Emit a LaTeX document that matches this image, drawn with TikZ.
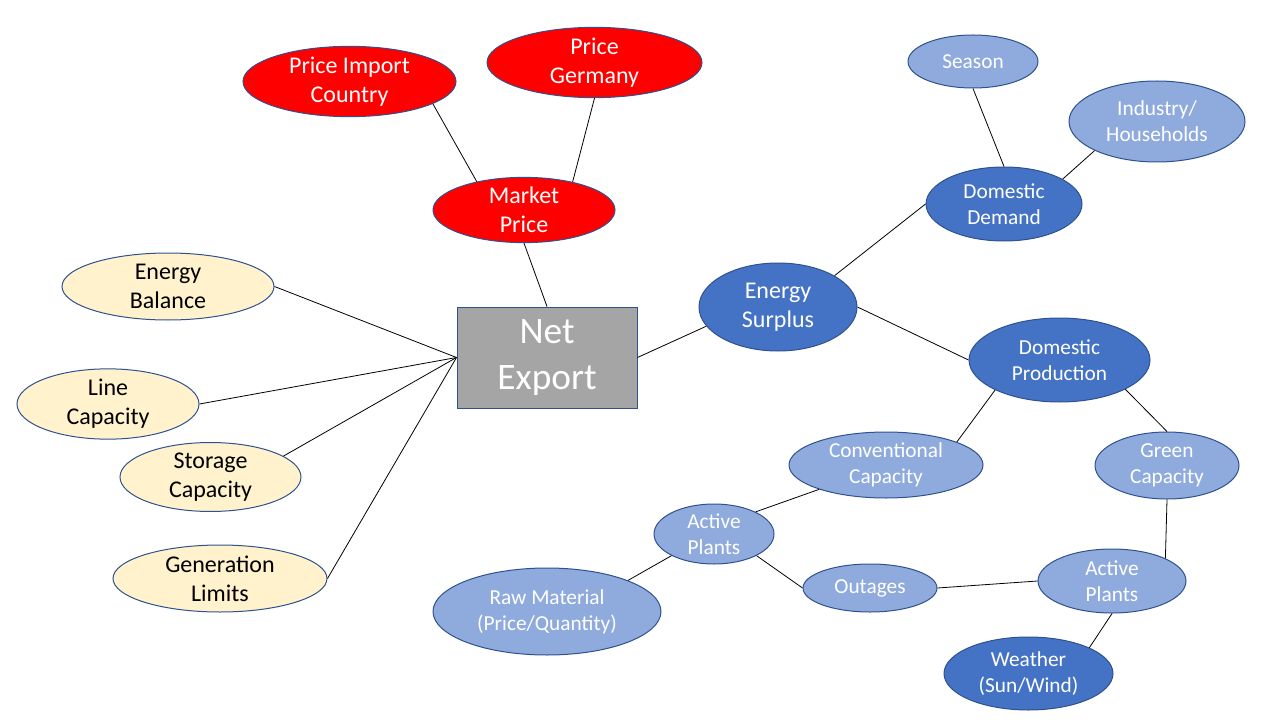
\documentclass[tikz,border=0pt]{standalone}
\usepackage{fontspec}
\setmainfont{Carlito}
\usetikzlibrary{shapes.geometric}
\definecolor{rim}{HTML}{2F528F}
\definecolor{pricefill}{HTML}{FF0000}
\definecolor{limitfill}{HTML}{FFF2CC}
\definecolor{palefill}{HTML}{8FAADC}
\definecolor{deepfill}{HTML}{4472C4}
\definecolor{boxfill}{HTML}{A5A5A5}
\begin{document}
\begin{tikzpicture}[x=0.75pt, y=-0.75pt,
        oval/.style 2 args={ellipse, draw=rim, line width=0.75pt, inner sep=0pt, align=center,
            minimum width=#1*0.75pt, minimum height=#2*0.75pt},
        price/.style={fill=pricefill, text=white, font=\fontsize{18}{22}\selectfont},
        limit/.style={fill=limitfill, text=black, font=\fontsize{18}{22}\selectfont},
        pale/.style={fill=palefill, text=white, font=\fontsize{16}{19.5}\selectfont},
        deep/.style={fill=deepfill, text=white, font=\fontsize{16}{19.5}\selectfont},
        big/.style={font=\fontsize{18}{22}\selectfont},
        box/.style={rectangle, draw=rim, line width=0.75pt, fill=boxfill, text=white, align=center,
            minimum width=135pt, minimum height=75.75pt, inner sep=0pt, font=\fontsize{28}{34}\selectfont},
        link/.style={draw=black, line width=0.6pt}]
        \useasboundingbox (0,0) rectangle (1280,720);
        \node[oval={213}{63}, price] (pi) at (349.5,81.5) {Price Import\\Country};
        \node[oval={215}{69}, price] (pg) at (594.5,62.5) {Price\\Germany};
        \node[oval={182}{56}, price] (mp) at (524,210) {Market\\Price};
        \node[box] (ne) at (547,357.5) {Net\\Export};
        \node[oval={212}{67}, limit] (eb) at (168,286.5) {Energy\\Balance};
        \node[oval={182}{56}, limit] (lc) at (108,404) {Line\\Capacity};
        \node[oval={181}{56}, limit] (sc) at (210.5,477) {Storage\\Capacity};
        \node[oval={214}{67}, limit] (gl) at (220,578.5) {Generation\\Limits};
        \node[oval={158}{88}, deep, big] (es) at (778,307) {Energy\\Surplus};
        \node[oval={130}{53}, pale] (se) at (973,61.5) {Season};
        \node[oval={176}{81}, pale] (ih) at (1157,121.5) {Industry/\\Households};
        \node[oval={156}{74}, deep] (dd) at (1004,204) {Domestic\\Demand};
        \node[oval={181}{84}, deep] (dp) at (1059.5,360) {Domestic\\Production};
        \node[oval={194}{66}, pale] (cc) at (886,465) {Conventional\\Capacity};
        \node[oval={144}{67}, pale] (gc) at (1167,465.5) {Green\\Capacity};
        \node[oval={120}{60}, pale] (ap) at (714,534) {Active\\Plants};
        \node[oval={134}{48}, pale] (ou) at (870,588) {Outages};
        \node[oval={148}{64}, pale] (ag) at (1112,581) {Active\\Plants};
        \node[oval={169}{73}, deep] (we) at (1028.5,673.5) {Weather\\(Sun/Wind)};
        \node[oval={228}{87}, pale] (rm) at (547,611.5) {Raw Material\\(Price/Quantity)};
        \draw[link] (pi.-15.9) -- (mp.149.4);
        \draw[link] (pg.south) -- (mp.30.2);
        \draw[link] (mp.south) -- (ne.north);
        \draw[link] (eb.east) -- (ne.west);
        \draw[link] (lc.east) -- (ne.west);
        \draw[link] (sc.16.7) -- (ne.west);
        \draw[link] (gl.east) -- (ne.west);
        \draw[link] (ne.east) -- (es.195);
        \draw[link] (es.29.3) -- (dd.west);
        \draw[link] (es.east) -- (dp.west);
        \draw[link] (se.south) -- (dd.north);
        \draw[link] (ih.205.4) -- (dd.23.2);
        \draw[link] (dp.205.3) -- (cc.18.4);
        \draw[link] (dp.-24.6) -- (gc.north);
        \draw[link] (cc.200) -- (ap.28);
        \draw[link] (ap.-27) -- (ou.west);
        \draw[link] (ap.207.6) -- (rm.21.5);
        \draw[link] (ou.east) -- (ag.west);
        \draw[link] (gc.south) -- (ag.23.5);
        \draw[link] (ag.south) -- (we.23.2);
    \end{tikzpicture}
\end{document}
